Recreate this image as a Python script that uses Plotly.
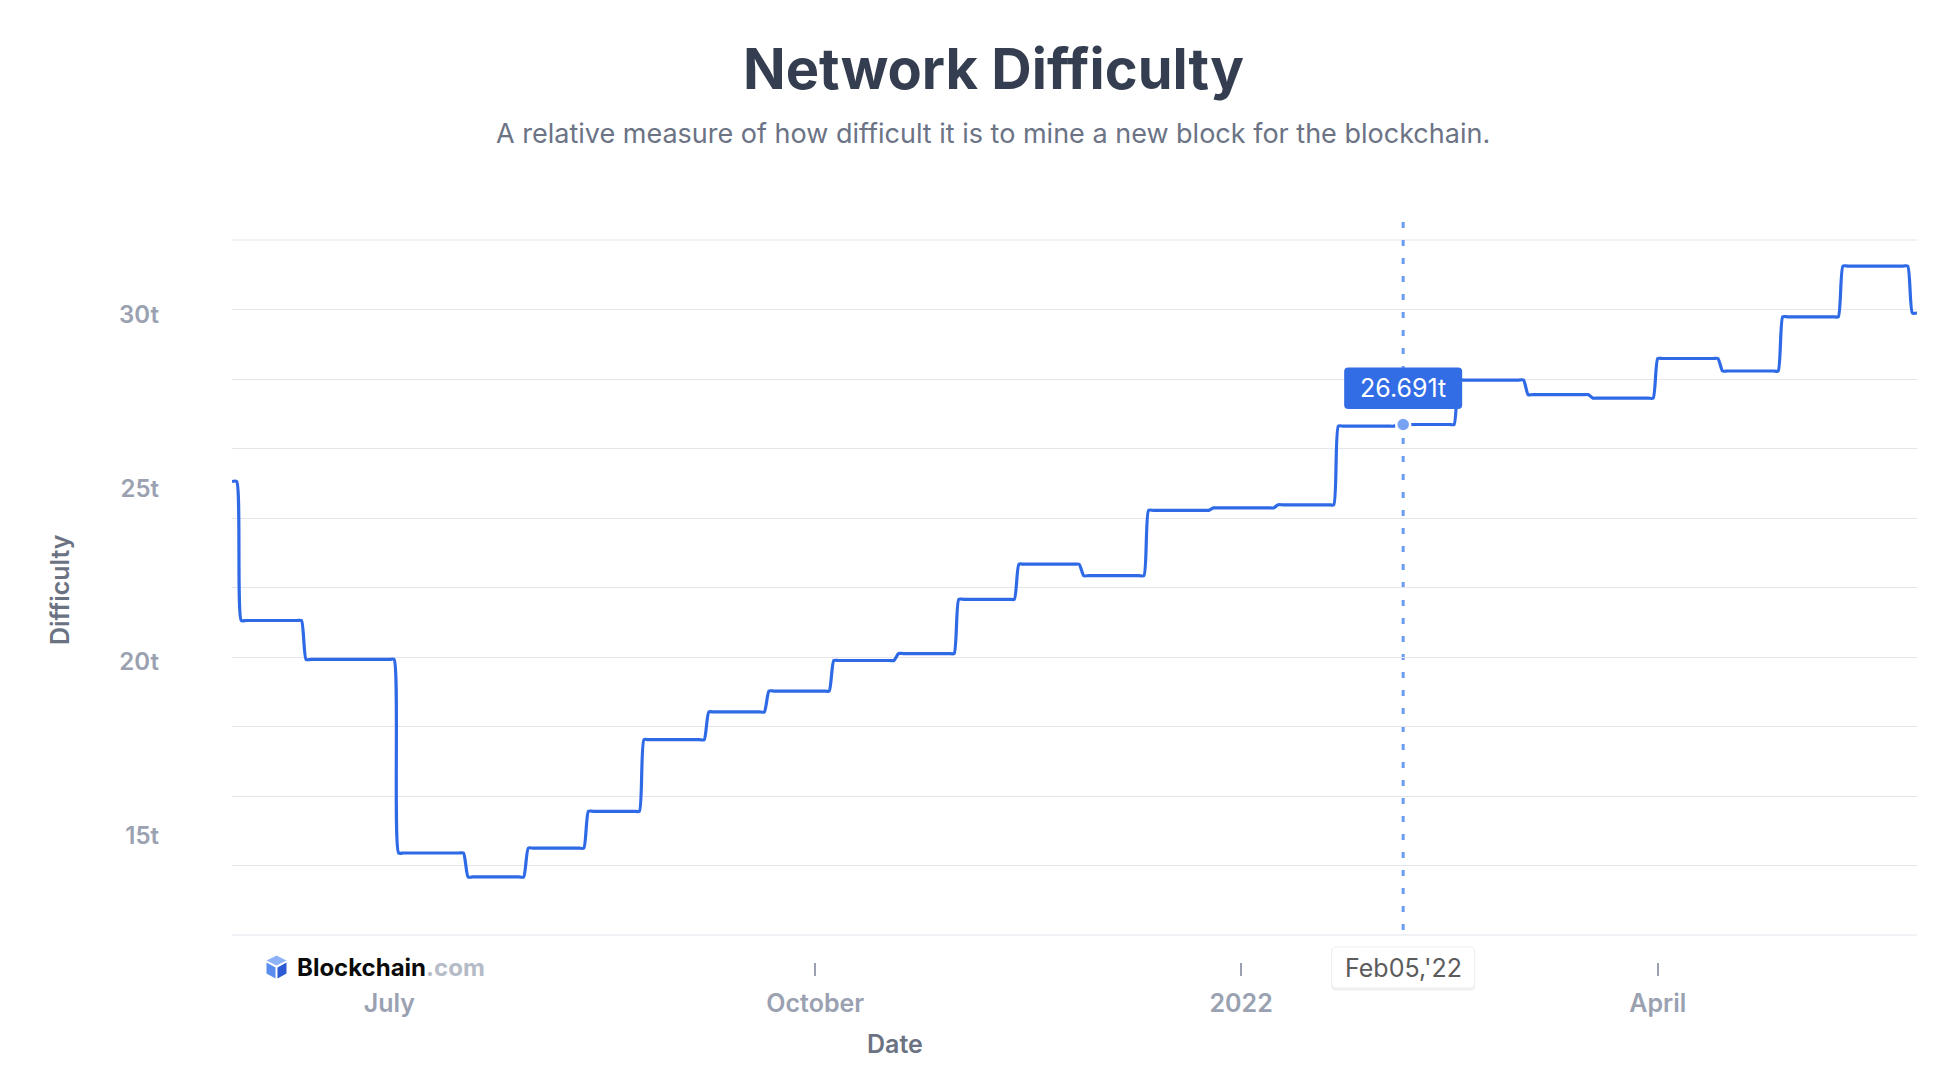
import pandas as pd
import plotly.graph_objects as go

# difficulty in trillions, held from each adjustment day until the next one
adjust_dates = ["2021-05-28", "2021-05-30", "2021-06-13", "2021-07-03", "2021-07-18",
                "2021-07-31", "2021-08-13", "2021-08-25", "2021-09-08", "2021-09-21",
                "2021-10-05", "2021-10-19", "2021-11-01", "2021-11-14", "2021-11-28",
                "2021-12-12", "2021-12-26", "2022-01-09", "2022-01-22", "2022-02-04",
                "2022-02-17", "2022-03-04", "2022-03-18", "2022-04-01", "2022-04-15",
                "2022-04-28", "2022-05-11", "2022-05-26"]
difficulty_t = [25.05, 21.05, 19.93, 14.36, 13.67,
                14.50, 15.56, 17.62, 18.42, 19.02,
                19.90, 20.10, 21.66, 22.67, 22.34,
                24.22, 24.29, 24.38, 26.643, 26.691,
                27.97, 27.55, 27.45, 28.59, 28.23,
                29.79, 31.25, 29.90]
last_date = "2022-05-27"

x_tick_dates = ["2021-07-01", "2021-10-01", "2022-01-01", "2022-04-01"]
x_tick_text = ["July", "October", "2022", "April"]
y_tick_vals = [15, 20, 25, 30]
y_tick_text = ["15t", "20t", "25t", "30t"]
y_min, y_max = 12, 32

hover_date = "2022-02-05"
hover_date_text = "Feb05,'22"

# daily series (difficulty stays constant between adjustments)
steps = pd.Series(difficulty_t, index=pd.to_datetime(adjust_dates))
days = pd.date_range(adjust_dates[0], last_date, freq="D")
daily = steps.reindex(days, method="ffill")
hover_value = daily[pd.Timestamp(hover_date)]

W, H = 1946, 1074
ML, MR, MT, MB = 232, 29, 240, 112
PW, PH = W - ML - MR, H - MT - MB
Y_DOMAIN_BOTTOM = 27 / PH


def px_x(px):
    return (px - ML) / PW


def px_y(py):
    return (H - MB - py) / PH


def rounded_rect(x0, y0, x1, y1, r):
    return (f"M{x0 + r},{y0} L{x1 - r},{y0} Q{x1},{y0} {x1},{y0 + r} "
            f"L{x1},{y1 - r} Q{x1},{y1} {x1 - r},{y1} L{x0 + r},{y1} "
            f"Q{x0},{y1} {x0},{y1 - r} L{x0},{y0 + r} Q{x0},{y0} {x0 + r},{y0} Z")


FONT = "Inter"
BLUE = "#2f6ae6"
TICK_GREY = "#9aa1b1"
AXIS_GREY = "#6b7282"
GRID = "#e4e6eb"

fig = go.Figure()
fig.add_trace(go.Scatter(x=daily.index, y=daily.values, mode="lines",
                         line=dict(color=BLUE, width=3.2, shape="spline", smoothing=0.6),
                         hoverinfo="skip"))
fig.add_trace(go.Scatter(x=[hover_date], y=[hover_value], mode="markers",
                         marker=dict(size=14, color="#78a2f2", line=dict(color="white", width=2.5)),
                         hoverinfo="skip"))
# invisible trace so the grid-only axis gets drawn
fig.add_trace(go.Scatter(x=[daily.index[0]], y=[y_min], yaxis="y2", mode="markers",
                         marker=dict(opacity=0), hoverinfo="skip"))

fig.update_layout(
    template="none",
    width=W, height=H,
    margin=dict(l=ML, r=MR, t=MT, b=MB),
    paper_bgcolor="white", plot_bgcolor="white",
    showlegend=False, hovermode=False,
    font=dict(family=FONT),
    xaxis=dict(
        type="date", range=[adjust_dates[0], last_date],
        anchor="free", position=0,
        tickvals=x_tick_dates, ticktext=x_tick_text,
        ticks="outside", ticklen=13, tickwidth=1.5, tickcolor=TICK_GREY,
        tickfont=dict(size=25, color=TICK_GREY, family=FONT, weight=600),
        ticklabelstandoff=6,
        showgrid=False, showline=False, zeroline=False, automargin=False,
    ),
    yaxis=dict(
        domain=[Y_DOMAIN_BOTTOM, 1], range=[y_min, y_max],
        tickvals=y_tick_vals, ticktext=y_tick_text, ticks="",
        tickfont=dict(size=24, color=TICK_GREY, family=FONT, weight=600),
        ticklabelstandoff=72, ticklabelshift=5,
        showgrid=False, showline=False, zeroline=False, automargin=False,
    ),
    yaxis2=dict(
        overlaying="y", range=[y_min, y_max], tick0=y_min, dtick=2,
        showticklabels=False, ticks="",
        showgrid=True, gridcolor=GRID, gridwidth=1.2,
        showline=False, zeroline=False, automargin=False,
    ),
)

# grid lines on the top and bottom edges (plotly skips grid at the range ends)
for edge in (Y_DOMAIN_BOTTOM, 1):
    fig.add_shape(type="line", xref="paper", yref="paper", layer="below",
                  x0=0, x1=1, y0=edge, y1=edge, line=dict(color=GRID, width=1.2))

# hover guide line and labels
fig.add_shape(type="line", xref="x", yref="paper", layer="below",
              x0=hover_date, x1=hover_date, y0=px_y(222), y1=px_y(937),
              line=dict(color="#6d9bf0", width=3, dash="6px,12px"))
fig.add_shape(type="path", xref="x", yref="y", xsizemode="pixel", ysizemode="pixel",
              xanchor=hover_date, yanchor=hover_value,
              path=rounded_rect(-59, 15.5, 59, 57, 4),
              fillcolor="#326de6", line=dict(width=0), layer="above")
fig.add_annotation(x=hover_date, y=hover_value, yshift=36, text=f"{hover_value:.3f}t",
                   showarrow=False, font=dict(size=25, color="white", family=FONT))
fig.add_shape(type="path", xref="x", yref="paper", xsizemode="pixel", ysizemode="pixel",
              xanchor=hover_date, yanchor=px_y(969.5),
              path=rounded_rect(-72, -21, 72, 21, 5),
              fillcolor="rgba(0,0,0,0.06)", line=dict(width=0), layer="above")
fig.add_shape(type="path", xref="x", yref="paper", xsizemode="pixel", ysizemode="pixel",
              xanchor=hover_date, yanchor=px_y(967.5),
              path=rounded_rect(-71.5, -20.5, 71.5, 20.5, 5),
              fillcolor="white", line=dict(color="#eceef1", width=1), layer="above")
fig.add_annotation(x=hover_date, xref="x", yref="paper", y=px_y(967.5), text=hover_date_text,
                   showarrow=False, yanchor="middle",
                   font=dict(size=25, color="#5c5c5c", family=FONT))

# titles
fig.add_annotation(xref="paper", yref="paper", x=px_x(993), y=px_y(69), xanchor="center",
                   yanchor="middle", text="<b>Network Difficulty</b>", showarrow=False,
                   font=dict(size=56, color="#353e50", family=FONT))
fig.add_annotation(xref="paper", yref="paper", x=px_x(993), y=px_y(133), xanchor="center",
                   yanchor="middle",
                   text="A relative measure of how difficult it is to mine a new block for the blockchain.",
                   showarrow=False, font=dict(size=27, color="#6b7385", family=FONT))
fig.add_annotation(xref="paper", yref="paper", x=px_x(60), y=px_y(590), textangle=-90,
                   xanchor="center", yanchor="middle",
                   text="Difficulty", showarrow=False,
                   font=dict(size=25, color=AXIS_GREY, family=FONT, weight=600))
fig.add_annotation(xref="paper", yref="paper", x=px_x(895), y=px_y(1044), xanchor="center",
                   yanchor="middle", text="Date", showarrow=False,
                   font=dict(size=25, color=AXIS_GREY, family=FONT, weight=600))

# Blockchain.com watermark
fig.add_annotation(xref="paper", yref="paper", x=px_x(295), y=px_y(967.5), xanchor="left",
                   yanchor="middle", bgcolor="white", showarrow=False,
                   text="<b>Blockchain<span style='color:#b5bbc7'>.com</span></b>",
                   font=dict(size=24, color="#0b0b0b", family=FONT))
cube = [("M0,11 L10,6 L0,1 L-10,6 Z", "#8db2f7"),
        ("M-10,4 L-1,-1 L-1,-12 L-10,-7 Z", "#5a8df0"),
        ("M10,4 L1,-1 L1,-12 L10,-7 Z", "#2c5bd3")]
for path, color in cube:
    fig.add_shape(type="path", xref="paper", yref="paper", xsizemode="pixel", ysizemode="pixel",
                  xanchor=px_x(276.5), yanchor=px_y(966.5), path=path,
                  fillcolor=color, line=dict(width=0), layer="above")

fig.write_html("out.html", config={"displayModeBar": False},
               post_script="document.body.style.margin='0';document.body.style.overflow='hidden';")
